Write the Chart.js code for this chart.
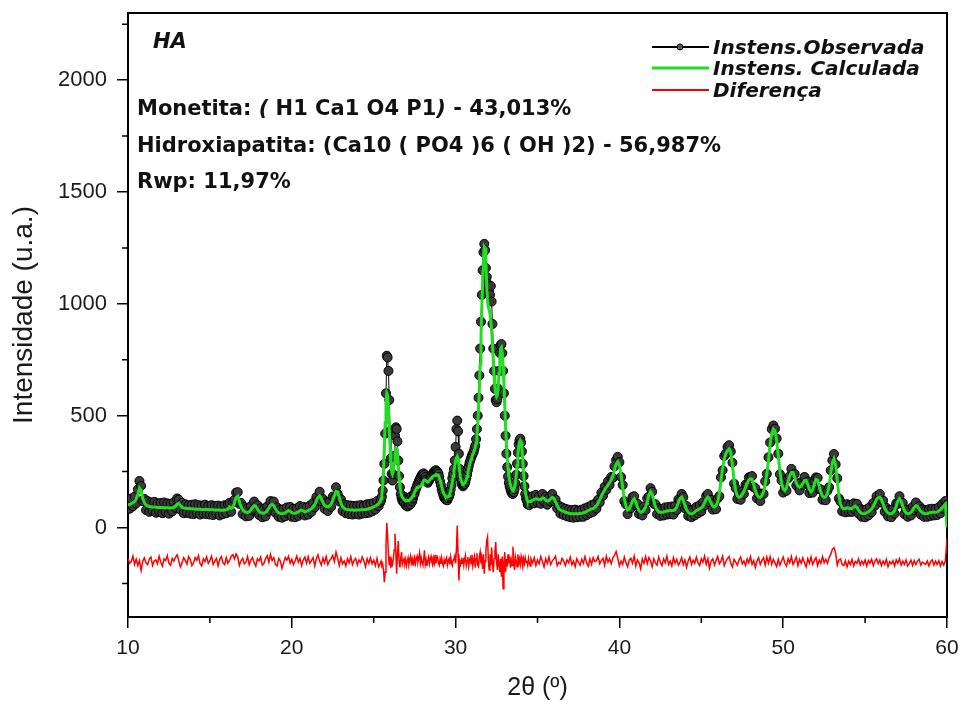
<!DOCTYPE html>
<html>
<head>
<meta charset="utf-8">
<title>HA - Rietveld</title>
<script src="https://cdn.jsdelivr.net/npm/chart.js@4.4.1/dist/chart.umd.min.js"></script>
<style>
  html, body { margin: 0; padding: 0; background: #fff; }
</style>
</head>
<body>
<canvas id="xrdChart" width="965" height="704"></canvas>
<script>
// passos de 2θ: 0.1° fora dos picos, 0.05° na regiao 25.4°-34.6°
const thetaSegments = [[10.0, 25.3, 0.1], [25.4, 34.6, 0.05], [34.7, 60.0, 0.1]];

const xTicks = [10, 20, 30, 40, 50, 60];
const xMinorTicks = [15, 25, 35, 45, 55];
const yTicks = [0, 500, 1000, 1500, 2000];
const yMinorTicks = [-250, 250, 750, 1250, 1750, 2250];

// Intensidade calculada (linha verde)
const calcA = [
  100,103,107,111,117,127,148,176,166,132,
  110,100,96,94,93,92,92,91,90,90,
  89,89,88,88,88,87,87,88,90,94,
  104,108,98,90,87,86,85,85,84,84,
  83,83,82,82,82,81,81,80,80,80,
  79,79,79,78,78,78,77,77,77,78,
  79,83,92,86,90,108,135,140,116,92,
  79,72,68,67,70,78,90,98,95,82,
  72,66,64,65,68,75,88,100,104,98,
  84,72,66,63,62,63,66,72,76,72,
  66,64,64,66,70,76,78,74,70,72,
  76,80,85,92,102,118,135,142,130,112,
  100,94,92,96,105,120,142,162,160,135,
  108,92,85,82,80,79,78,78,77,77,
  78,78,79,79,80,81,82,84,86,89,
  92,96,101,107
];
const calcB = [
  115,128,150,190,260,360,470,560,600,590,
  530,440,350,285,250,240,255,290,330,350,
  352,330,280,225,185,160,143,135,130,126,
  123,121,120,120,121,122,124,127,131,136,
  142,150,158,166,173,178,181,182,182,184,
  188,195,203,210,213,212,208,205,204,206,
  210,215,220,224,227,230,232,234,236,237,
  236,232,224,212,198,184,170,158,149,142,
  138,136,136,138,143,152,165,182,204,228,
  250,275,298,312,318,308,282,250,224,207,
  197,194,195,198,204,214,228,245,262,278,
  292,305,316,326,335,345,358,378,410,460,
  530,620,730,850,980,1100,1200,1255,1250,1180,
  1080,1010,985,975,955,920,880,820,750,680,
  625,595,585,592,625,690,760,800,805,780,
  720,640,550,460,380,315,265,228,210,190,
  177,170,167,170,180,200,232,275,320,358,
  382,390,382,350,300,245,198,162,140,127,
  120,116,115,116,118
];
const calcC = [
  122,126,128,127,124,125,132,130,122,118,
  120,128,135,130,115,100,84,78,74,72,
  68,66,64,63,62,62,62,62,62,63,
  64,66,68,72,76,80,83,85,90,98,
  110,125,140,155,168,180,190,200,212,230,
  258,285,294,278,235,180,130,95,78,82,
  100,120,128,115,92,75,68,70,78,92,
  115,145,160,150,120,92,78,70,68,68,
  70,72,74,75,76,76,76,80,92,112,
  130,136,122,100,80,68,62,61,64,70,
  76,80,84,88,95,110,128,136,126,108,
  95,92,98,115,150,210,265,305,330,345,
  352,335,280,210,165,142,135,138,148,162,
  180,198,212,218,215,192,165,145,136,135,
  142,160,192,240,300,370,420,440,432,390,
  320,250,200,172,166,178,205,232,246,245,
  225,200,185,180,185,198,210,210,192,170,
  160,168,195,215,212,185,158,140,135,138,
  152,185,240,290,306,278,210,145,105,88,
  83,85,88,86,84,86,92,96,90,78,
  68,63,62,63,66,70,76,84,95,110,
  125,133,135,125,105,85,72,65,62,62,
  66,76,95,118,128,118,95,75,65,62,
  63,68,78,90,98,94,82,72,66,63,
  62,63,65,67,68,68,68,70,74,80,
  88,96,104,0
];

// Intensidade observada (pontos pretos)
const obsA = [
  122,84,130,95,138,108,170,208,186,118,
  128,78,118,70,112,74,115,66,108,72,
  110,64,112,70,108,62,106,72,112,88,
  130,124,80,110,64,104,66,100,62,102,
  60,104,64,100,58,98,62,102,60,96,
  58,100,56,96,62,98,54,94,60,100,
  64,104,110,70,112,124,156,158,106,110,
  60,92,50,86,52,96,76,116,78,100,
  56,86,46,84,50,94,74,118,92,116,
  66,90,48,80,44,82,50,90,60,92,
  48,84,46,86,52,96,62,92,54,90,
  58,98,70,110,90,136,120,160,116,128,
  84,112,74,114,92,138,130,180,150,116,
  126,74,104,64,100,60,98,58,96,60,
  98,58,100,62,98,64,104,66,106,72,
  110,80,118,96
];
const obsB = [
  112,122,138,165,210,285,420,600,768,760,
  700,570,430,310,240,210,238,320,410,448,
  440,385,300,230,180,150,132,120,116,110,
  136,100,128,94,132,98,134,104,140,116,
  130,146,152,168,176,188,196,206,214,222,
  230,236,240,242,236,226,214,204,200,208,
  212,220,226,232,240,246,250,254,256,252,
  248,240,226,206,190,172,158,146,134,130,
  124,128,122,132,138,150,170,190,220,240,
  262,300,360,440,478,430,330,262,222,204,
  190,184,190,194,204,220,236,256,274,290,
  300,312,322,330,338,352,366,395,440,500,
  580,680,800,920,1040,1150,1230,1268,1240,1160,
  1120,1090,1070,1060,1040,1080,1010,910,800,700,
  620,570,560,575,620,700,780,815,820,780,
  700,600,500,410,330,270,228,200,184,170,
  160,152,150,158,172,198,236,285,335,372,
  390,397,380,340,285,230,185,150,130,120,
  104,132,100,136,110
];
const obsC = [
  140,108,146,112,140,106,150,116,138,102,
  134,116,150,118,126,86,98,62,90,56,
  84,50,80,46,78,44,80,46,76,48,
  80,48,86,56,92,64,100,70,106,84,
  124,112,156,142,182,168,206,190,226,222,
  274,302,316,292,226,190,118,104,60,96,
  86,136,140,100,106,60,82,54,94,78,
  130,138,176,160,106,104,60,86,52,84,
  54,90,58,92,60,94,58,96,78,126,
  120,150,136,86,96,52,78,46,80,54,
  92,64,100,72,112,98,142,150,112,124,
  80,108,82,130,140,224,256,320,330,360,
  368,340,290,196,176,128,150,124,162,150,
  192,188,224,226,230,180,176,130,150,118,
  152,150,206,240,314,380,440,456,442,398,
  330,238,210,156,176,164,220,230,262,238,
  240,188,198,166,200,190,226,200,206,154,
  172,156,210,224,222,172,170,124,146,122,
  164,180,256,300,329,282,220,130,116,72,
  100,68,104,70,100,70,108,80,106,62,
  84,48,78,46,82,54,92,68,110,98,
  140,122,150,112,120,70,88,50,78,46,
  82,62,108,106,140,108,110,60,80,48,
  80,54,92,78,112,84,96,58,82,48,
  78,48,82,52,84,54,84,56,90,64,
  104,84,118,102
];

// Diferenca (linha vermelha, deslocada)
const diffA = [
  -138,-160,-152,-128,-165,-142,-170,-148,-192,-150,
  -136,-158,-166,-140,-132,-170,-150,-145,-162,-128,
  -155,-172,-140,-148,-126,-160,-168,-138,-150,-133,
  -122,-150,-176,-158,-135,-148,-164,-130,-142,-170,
  -158,-134,-146,-125,-162,-172,-140,-152,-131,-160,
  -148,-128,-165,-150,-138,-172,-142,-130,-158,-166,
  -135,-160,-147,-128,-122,-140,-118,-132,-170,-150,
  -138,-162,-155,-130,-166,-146,-134,-158,-172,-140,
  -150,-132,-168,-160,-138,-126,-155,-120,-148,-135,
  -165,-172,-138,-150,-182,-158,-134,-146,-128,-160,
  -142,-166,-150,-128,-155,-138,-170,-145,-132,-160,
  -130,-160,-148,-135,-172,-140,-122,-150,-168,-136,
  -158,-130,-165,-148,-140,-125,-152,-110,-138,-170,
  -135,-162,-150,-172,-140,-158,-130,-166,-148,-138,
  -168,-145,-156,-132,-150,-175,-140,-160,-135,-162,
  -146,-170,-138,-175
];
const diffB = [
  -160,-150,-172,-165,-190,-244,-200,-80,20,-40,
  -120,-170,-130,-180,-150,-165,-140,-100,-28,-110,
  -207,-120,-60,-150,-178,-140,-110,-165,-150,-140,
  -160,-142,-170,-150,-135,-165,-148,-128,-158,-140,
  -168,-145,-132,-160,-140,-128,-155,-138,-115,-160,
  -135,-158,-168,-142,-102,-165,-145,-172,-148,-132,
  -162,-140,-128,-155,-168,-138,-158,-122,-160,-140,
  -132,-158,-168,-142,-162,-135,-160,-172,-145,-165,
  -145,-135,-168,-150,-140,-165,-132,-158,-170,-145,
  -140,-128,-160,-100,9,-120,-237,-150,-165,-145,
  -160,-135,-168,-142,-125,-170,-148,-132,-172,-145,
  -135,-162,-122,-170,-145,-128,-180,-140,-115,-168,
  -175,-130,-110,-160,-140,-185,-120,-207,-150,-100,
  -60,-43,-150,-190,-120,-170,-90,-160,-200,-140,
  -110,-65,-150,-190,-120,-165,-200,-140,-220,-130,
  -274,-160,-110,-200,-140,-175,-120,-160,-130,-180,
  -145,-170,-86,-160,-190,-130,-150,-175,-120,-160,
  -140,-165,-130,-150,-175,-140,-160,-135,-155,-148,
  -168,-138,-160,-172,-140
];
const diffC = [
  -158,-135,-170,-145,-162,-130,-152,-176,-140,-160,
  -132,-165,-150,-140,-128,-170,-155,-162,-138,-150,
  -170,-145,-158,-132,-166,-150,-175,-140,-155,-168,
  -142,-160,-130,-158,-172,-140,-165,-135,-152,-148,
  -130,-162,-148,-138,-170,-128,-155,-140,-162,-135,
  -125,-108,-138,-172,-150,-165,-132,-158,-176,-145,
  -138,-160,-128,-172,-145,-158,-185,-140,-160,-130,
  -162,-135,-150,-175,-140,-158,-168,-132,-155,-170,
  -140,-158,-128,-165,-150,-172,-135,-160,-142,-168,
  -155,-135,-166,-145,-178,-150,-132,-165,-146,-160,
  -132,-158,-170,-140,-155,-128,-165,-140,-182,-150,
  -140,-168,-148,-130,-162,-150,-128,-170,-152,-138,
  -130,-160,-176,-142,-155,-168,-145,-132,-162,-150,
  -170,-140,-158,-130,-165,-148,-178,-150,-135,-165,
  -148,-135,-168,-132,-160,-130,-165,-142,-158,-175,
  -142,-168,-150,-132,-160,-172,-140,-158,-130,-165,
  -150,-132,-170,-142,-160,-135,-158,-176,-140,-160,
  -132,-165,-148,-135,-170,-145,-160,-130,-158,-142,
  -160,-135,-120,-98,-90,-115,-168,-145,-140,-165,
  -170,-148,-176,-150,-165,-142,-172,-152,-160,-140,
  -168,-150,-165,-145,-172,-148,-160,-142,-170,-150,
  -140,-162,-145,-170,-150,-165,-142,-175,-152,-162,
  -148,-172,-145,-160,-140,-168,-150,-165,-145,-172,
  -160,-145,-170,-148,-165,-150,-142,-168,-155,-160,
  -165,-150,-172,-152,-145,-168,-150,-165,-148,-172,
  -152,-168,-150,-50
];

const twoTheta = [];
thetaSegments.forEach(([a, b, s]) => {
  const n = Math.round((b - a) / s);
  for (let i = 0; i <= n; i++) twoTheta.push(+(a + i * s).toFixed(2));
});

const observada = obsA.concat(obsB, obsC);
const calculada = calcA.concat(calcB, calcC);
const diferenca = diffA.concat(diffB, diffC);

function toPoints(values) {
  return values.map((v, i) => ({ x: twoTheta[i], y: v }));
}

const SANS = "'Liberation Sans', Arial, sans-serif";
const TXT = "'DejaVu Sans', Verdana, sans-serif";

const frameAndText = {
  id: 'frameAndText',
  beforeDatasetsDraw(chart) {
    const { ctx, chartArea: a } = chart;
    ctx.save();
    ctx.strokeStyle = '#000';
    ctx.lineWidth = 2;
    ctx.strokeRect(a.left, a.top, a.right - a.left, a.bottom - a.top);
    ctx.restore();
  },
  afterDraw(chart) {
    const { ctx, scales: { x, y } } = chart;
    ctx.save();
    // ticks menores
    ctx.strokeStyle = '#000';
    ctx.lineWidth = 1.5;
    ctx.beginPath();
    xMinorTicks.forEach(v => {
      const px = x.getPixelForValue(v);
      ctx.moveTo(px, y.bottom);
      ctx.lineTo(px, y.bottom + 6);
    });
    yMinorTicks.forEach(v => {
      const py = y.getPixelForValue(v);
      ctx.moveTo(x.left, py);
      ctx.lineTo(x.left - 6, py);
    });
    ctx.stroke();

    // textos
    ctx.fillStyle = '#111';
    ctx.textBaseline = 'alphabetic';
    const b = 'bold 21px ' + TXT;
    const bi = 'italic bold 21px ' + TXT;
    ctx.font = 'italic bold 21px ' + TXT;
    ctx.fillText('HA', 153, 48);
    drawRuns(ctx, [['Monetita: ', b], ['(', bi], [' H1 Ca1 O4 P1', b], [')', bi], [' - 43,013%', b]], 137, 115);
    drawRuns(ctx, [['Hidroxiapatita: (Ca10 ( PO4 )6 ( OH )2) - 56,987%', b]], 137, 152);
    drawRuns(ctx, [['Rwp: 11,97%', b]], 137, 188);

    // legenda
    const items = [
      ['Instens.Observada', '#000', 2, 47, true],
      ['Instens. Calculada', '#22dd22', 3, 68, false],
      ['Diferença', '#ff0000', 2, 90, false]
    ];
    items.forEach(([label, color, w, ly, dot]) => {
      ctx.strokeStyle = color;
      ctx.lineWidth = w;
      ctx.beginPath();
      ctx.moveTo(652, ly);
      ctx.lineTo(709, ly);
      ctx.stroke();
      if (dot) {
        ctx.fillStyle = '#555';
        ctx.beginPath();
        ctx.arc(680, ly, 3, 0, Math.PI * 2);
        ctx.fill();
        ctx.strokeStyle = '#000';
        ctx.lineWidth = 1;
        ctx.stroke();
      }
      ctx.fillStyle = '#111';
      ctx.font = 'italic bold 20px ' + TXT;
      ctx.fillText(label, 713, ly + 7);
    });
    ctx.restore();
  }
};

function drawRuns(ctx, runs, x, y) {
  runs.forEach(([t, f]) => {
    ctx.font = f;
    ctx.fillText(t, x, y);
    x += ctx.measureText(t).width;
  });
}

const axisGrid = { drawOnChartArea: false, drawTicks: true, tickLength: 11, color: '#000', lineWidth: 1.5 };
const axisBorder = { display: true, color: '#000', width: 2 };

new Chart(document.getElementById('xrdChart').getContext('2d'), {
  type: 'line',
  data: {
    datasets: [
      {
        label: 'Instens.Observada',
        data: toPoints(observada),
        borderColor: '#000',
        borderWidth: 1,
        pointRadius: 4.5,
        pointBackgroundColor: '#3a3a3a',
        pointBorderColor: '#000',
        pointBorderWidth: 1,
        order: 3
      },
      {
        label: 'Instens. Calculada',
        data: toPoints(calculada),
        borderColor: '#22dd22',
        borderWidth: 3,
        pointRadius: 0,
        order: 2
      },
      {
        label: 'Diferença',
        data: toPoints(diferenca),
        borderColor: '#ff0000',
        borderWidth: 1.5,
        pointRadius: 0,
        order: 1
      }
    ]
  },
  options: {
    responsive: false,
    animation: false,
    events: [],
    layout: { padding: { top: 13, right: 18, left: 0, bottom: 0 } },
    elements: { line: { tension: 0 } },
    plugins: { legend: { display: false }, tooltip: { enabled: false } },
    scales: {
      x: {
        type: 'linear',
        min: 10,
        max: 60,
        afterBuildTicks: s => { s.ticks = xTicks.map(v => ({ value: v })); },
        afterFit: s => { s.height = 87; s.paddingLeft = 0; s.paddingRight = 0; },
        grid: axisGrid,
        border: axisBorder,
        ticks: { color: '#1a1a1a', font: { family: SANS, size: 21 }, padding: 8, maxRotation: 0, callback: v => String(v) },
        title: { display: true, text: '2θ (º)', color: '#1a1a1a', font: { family: SANS, size: 25 }, padding: { top: 0, bottom: 1 } }
      },
      y: {
        type: 'linear',
        min: -400,
        max: 2300,
        afterBuildTicks: s => { s.ticks = yTicks.map(v => ({ value: v })); },
        afterFit: s => { s.width = 128; s.paddingTop = 0; s.paddingBottom = 0; },
        grid: axisGrid,
        border: axisBorder,
        ticks: { color: '#1a1a1a', font: { family: SANS, size: 22 }, padding: 10, callback: v => String(v) },
        title: { display: true, text: 'Intensidade (u.a.)', color: '#1a1a1a', font: { family: SANS, size: 28 }, padding: { top: 7, bottom: 0 } }
      }
    }
  },
  plugins: [frameAndText]
});
</script>
</body>
</html>
